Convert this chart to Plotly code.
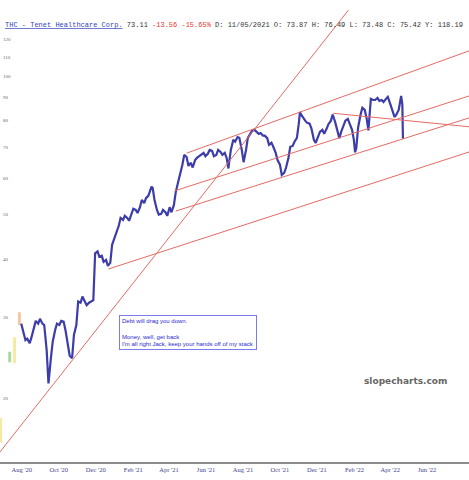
import plotly.graph_objects as go
import pandas as pd
import math

# ---- closes ----
week_start = "2020-07-31"          # Fridays
fri_closes = [
    29.0, 26.7, 26.3, 28.4, 29.0, 29.0, 25.4, 24.4, 28.1, 28.8,
    29.3, 26.1, 24.4, 28.8, 32.2, 32.4, 32.2, 32.6, 41.6, 40.7,
    39.9, 39.3, 44.5, 47.3, 48.7, 49.2, 50.0, 51.2, 51.9, 53.0,
    55.0, 57.1, 51.2, 50.2, 50.6, 51.9, 52.5, 58.9, 64.2, 66.7,
    64.8, 65.7, 67.0, 68.1, 67.8, 68.8, 67.4, 68.4, 68.1, 64.8,
    72.7, 73.7, 69.1, 69.1, 74.9, 76.4, 74.9, 74.2, 73.3, 71.6,
    68.1, 64.2, 61.6, 66.4, 70.5, 73.4, 82.4, 79.9, 78.8, 72.7,
    73.7, 76.4, 76.8, 79.9, 79.5, 73.3, 77.9, 80.7, 76.4, 69.8,
    82.4, 84.4, 79.5, 88.7, 89.6, 88.7, 89.2, 87.0, 81.5, 84.4,
]
mon_start = "2020-08-03"           # Mondays
mon_closes = [
    28.1, 26.9, 27.1, 29.4, 29.7, 28.8, 21.5, 26.5, 29.0, 29.4,
    28.1, 24.7, 27.4, 32.4, 33.2, 31.8, 32.4, 41.2, 40.5, 39.5,
    38.7, 43.0, 45.8, 49.2, 49.7, 48.5, 51.5, 50.4, 53.8, 54.3,
    56.3, 53.8, 50.0, 51.2, 49.7, 50.6, 55.9, 61.0, 67.4, 63.8,
    63.3, 66.4, 67.4, 67.0, 69.1, 67.0, 69.1, 67.4, 66.4, 69.1,
    72.0, 73.4, 65.0, 73.4, 76.0, 75.6, 75.2, 74.2, 70.9, 70.2,
    65.7, 61.0, 63.2, 70.2, 72.0, 78.6, 81.1, 79.1, 76.9, 71.6,
    75.6, 74.9, 78.6, 82.5, 76.4, 75.6, 80.0, 78.8, 72.7, 77.3,
    85.3, 81.0, 89.2, 88.7, 88.3, 87.8, 90.1, 84.4, 82.4,
]
extra_dates = ["2021-03-03", "2021-07-08", "2021-11-03", "2022-02-02",
               "2022-02-24", "2022-04-19", "2022-04-21", "2022-04-22"]
extra_closes = [57.5, 63.0, 83.5, 68.3, 76.2, 90.5, 86.67, 73.11]

# faint early bars on the left edge
ghost_dates = ["2020-06-27", "2020-07-12", "2020-07-20", "2020-07-28"]
ghost_low = [16.0, 23.9, 23.8, 28.8]
ghost_high = [18.1, 25.2, 27.1, 30.7]
ghost_colors = ["#f6eaa2", "#a9d9a2", "#f6eaa2", "#f2c9a4"]

# trendlines drawn on the chart
trend_x0 = ["2020-06-26", "2021-04-30", "2021-04-10", "2021-04-12", "2020-12-22", "2021-12-28"]
trend_y0 = [15.27, 68.0, 56.3, 50.9, 38.1, 83.0]
trend_x1 = ["2022-01-22", "2022-08-09", "2022-08-09", "2022-08-09", "2022-08-09", "2022-08-09"]
trend_y1 = [139.0, 113.4, 90.5, 81.1, 68.4, 77.6]

y_ticks = [20, 30, 40, 50, 60, 70, 80, 90, 100, 110, 120]

# ---- build series ----
s = pd.concat([
    pd.Series(fri_closes, index=pd.date_range(week_start, periods=len(fri_closes), freq="7D")),
    pd.Series(mon_closes, index=pd.date_range(mon_start, periods=len(mon_closes), freq="7D")),
    pd.Series(extra_closes, index=pd.to_datetime(extra_dates)),
]).sort_index()

fig = go.Figure()

for d, lo, hi, c in zip(ghost_dates, ghost_low, ghost_high, ghost_colors):
    fig.add_trace(go.Scatter(x=[d, d], y=[lo, hi], mode="lines",
                             line=dict(color=c, width=3), hoverinfo="skip"))

fig.add_trace(go.Scatter(x=s.index, y=s.values, mode="lines",
                         line=dict(color="#3c3cab", width=2.2), hoverinfo="skip"))

for x0, y0, x1, y1 in zip(trend_x0, trend_y0, trend_x1, trend_y1):
    fig.add_trace(go.Scatter(x=[x0, x1], y=[y0, y1], mode="lines",
                             line=dict(color="#e56a64", width=1), hoverinfo="skip"))

W, H = 469, 480
top, bottom = 10, 18
ph = H - top - bottom

def py(pix):
    return (H - bottom - pix) / ph

header = ('<span style="text-decoration:underline">THC - Tenet Healthcare Corp.</span>'
          ' <span style="color:#333">73.11</span>'
          ' <span style="color:#e33">-13.56 -15.65%</span>'
          ' <span style="color:#333">D: 11/05/2021 O: 73.87 H: 76.49 L: 73.48 C: 75.42 Y: 118.19</span>')

fig.update_layout(
    width=W, height=H,
    margin=dict(l=0, r=0, t=top, b=bottom),
    paper_bgcolor="white", plot_bgcolor="white",
    showlegend=False,
    xaxis=dict(range=["2020-06-26", "2022-08-09"], showgrid=False, zeroline=False,
               showline=True, linecolor="#8c8c8c", linewidth=1.5,
               tick0="2020-08-01", dtick="M2", tickformat="%b '%y", ticks="",
               tickfont=dict(family="Liberation Serif", size=6.5, color="#45458a")),
    yaxis=dict(type="log", range=[math.log10(14.52), math.log10(139.1)],
               showgrid=False, zeroline=False, showline=False,
               tickvals=y_ticks, ticktext=[str(v) for v in y_ticks],
               ticklabelposition="inside", ticks="",
               tickfont=dict(family="Liberation Serif", size=5, color="#666")),
    annotations=[
        dict(xref="paper", yref="paper", x=3 / W, y=py(25), xanchor="left", yanchor="middle",
             text=header, showarrow=False,
             font=dict(family="Liberation Mono", size=7, color="#3344bb")),
        dict(xref="paper", yref="paper", x=119 / W, y=py(315), xanchor="left", yanchor="top",
             text="Debt will drag you down.<br><br>Money, well, get back<br>"
                  "I'm all right Jack, keep your hands off of my stack",
             showarrow=False, align="left", bordercolor="#7b7bee", borderwidth=1, borderpad=2,
             bgcolor="white",
             font=dict(family="Liberation Sans", size=6, color="#2a2ad0")),
        dict(xref="paper", yref="paper", x=405 / W, y=py(381), xanchor="center", yanchor="middle",
             text="<b>slopecharts.com</b>", showarrow=False,
             font=dict(family="DejaVu Sans", size=9, color="#666")),
    ],
)

fig.write_html("out.html")
